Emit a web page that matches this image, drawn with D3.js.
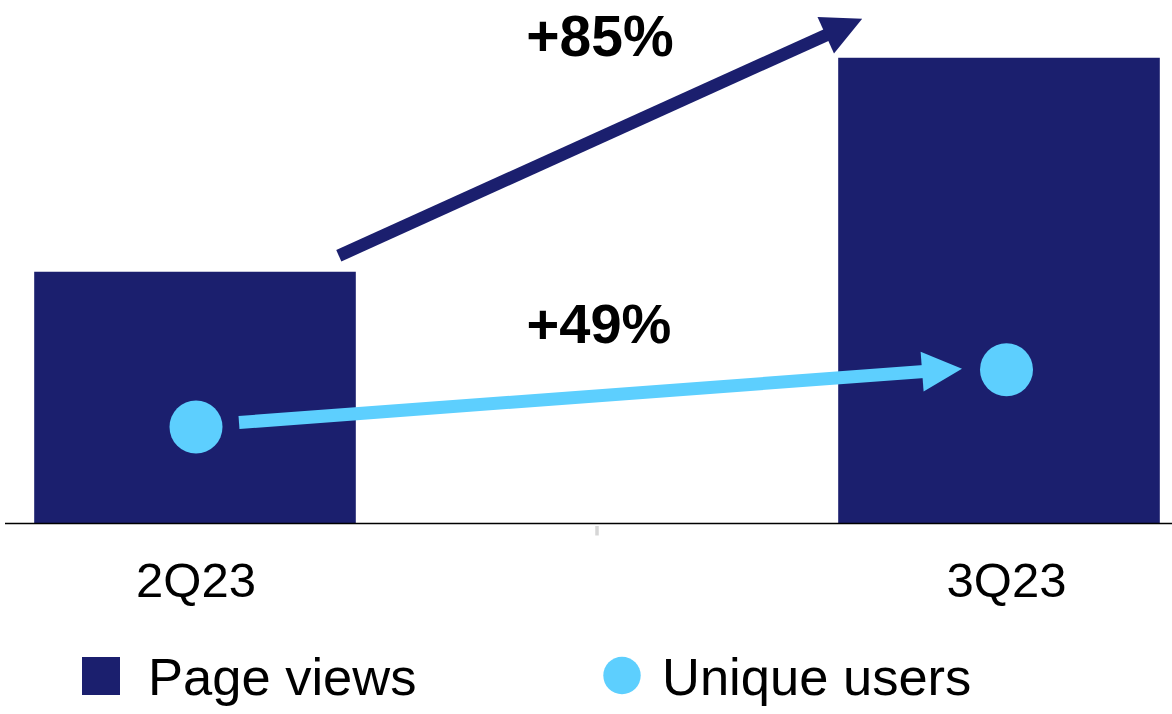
<!DOCTYPE html>
<html>
<head>
<meta charset="utf-8">
<script src="https://cdn.jsdelivr.net/npm/d3@7"></script>
<style>
  html, body { margin: 0; padding: 0; background: #ffffff; }
  svg { display: block; font-family: "Liberation Sans", Arial, Helvetica, sans-serif; }
</style>
</head>
<body>
<svg id="chart" width="1172" height="714"></svg>
<script>
// Quarterly traffic, indexed to 2Q23 = 100
const quarters = ["2Q23", "3Q23"];
const pageViews = [100, 185];     // +85%
const uniqueUsers = [100, 149];   // +49%
const growthLabels = ["+85%", "+49%"];
const legendLabels = ["Page views", "Unique users"];

const navy = "#1B1F6E";
const sky = "#5DCFFE";

const svg = d3.select("#chart");

// Bars on a band scale; the axis spans the full width
const x = d3.scaleBand()
  .domain(quarters)
  .range([-207, 1401])
  .paddingInner(0.6)
  .paddingOuter(0.3);

// Category label / marker centres
const xp = d3.scalePoint().domain(quarters).range([196, 1006.5]);

const y = d3.scaleLinear().domain([0, 200]).range([523.5, 20]);
const y2 = d3.scaleLinear().domain([0, 200]).range([544, 310]);

// Bars
svg.append("g").selectAll("rect")
  .data(quarters)
  .join("rect")
  .attr("x", d => x(d))
  .attr("y", (d, i) => y(pageViews[i]))
  .attr("width", x.bandwidth())
  .attr("height", (d, i) => y(0) - y(pageViews[i]))
  .attr("fill", navy);

// Baseline
svg.append("line")
  .attr("x1", 5).attr("x2", 1172)
  .attr("y1", y(0)).attr("y2", y(0))
  .attr("stroke", "#000").attr("stroke-width", 1.5);

// Tick mark between categories
const midTick = (x(quarters[0]) + x.bandwidth() + x(quarters[1])) / 2;
svg.append("line")
  .attr("x1", midTick).attr("x2", midTick)
  .attr("y1", y(0) + 2.5).attr("y2", y(0) + 12)
  .attr("stroke", "#d6d6d6").attr("stroke-width", 3.5);

// Category labels
svg.append("g").selectAll("text")
  .data(quarters)
  .join("text")
  .attr("x", d => xp(d))
  .attr("y", 597)
  .attr("text-anchor", "middle")
  .attr("font-size", 49)
  .attr("fill", "#000")
  .text(d => d);

// Arrow: shaft plus triangular head ending at (x2, y2)
function arrow(x1, y1, x2, y2, color, width) {
  const headLen = 40, headHalf = 20;
  const dx = x2 - x1, dy = y2 - y1;
  const len = Math.hypot(dx, dy);
  const ux = dx / len, uy = dy / len;
  const bx = x2 - ux * headLen, by = y2 - uy * headLen;
  svg.append("line")
    .attr("x1", x1).attr("y1", y1)
    .attr("x2", bx + ux * 2).attr("y2", by + uy * 2)
    .attr("stroke", color).attr("stroke-width", width);
  svg.append("path")
    .attr("d", d3.line()([
      [x2, y2],
      [bx - uy * headHalf, by + ux * headHalf],
      [bx + uy * headHalf, by - ux * headHalf]
    ]) + "Z")
    .attr("fill", color);
}

// Page views growth arrow
const pvStart = [x(quarters[0]) + x.bandwidth() - 17, y(pageViews[0]) - 16];
const pvEnd = [x(quarters[1]) + 24, y(pageViews[1]) - 39];
arrow(pvStart[0], pvStart[1], pvEnd[0], pvEnd[1], navy, 12.5);

// Unique users markers
svg.append("g").selectAll("circle")
  .data(quarters)
  .join("circle")
  .attr("cx", d => xp(d))
  .attr("cy", (d, i) => y2(uniqueUsers[i]))
  .attr("r", 26.5)
  .attr("fill", sky);

// Unique users growth arrow
const uuStart = [xp(quarters[0]) + 43, y2(uniqueUsers[0]) - 4.5];
const uuEnd = [xp(quarters[1]) - 44.5, y2(uniqueUsers[1]) - 1];
arrow(uuStart[0], uuStart[1], uuEnd[0], uuEnd[1], sky, 13);

// Growth labels
svg.append("text")
  .attr("x", 600).attr("y", 56)
  .attr("text-anchor", "middle")
  .attr("font-size", 57).attr("font-weight", "bold")
  .attr("fill", "#000")
  .text(growthLabels[0]);
svg.append("text")
  .attr("x", 599).attr("y", 343)
  .attr("text-anchor", "middle")
  .attr("font-size", 56).attr("font-weight", "bold")
  .attr("fill", "#000")
  .text(growthLabels[1]);

// Legend
const legend = svg.append("g");
legend.append("rect")
  .attr("x", 82).attr("y", 657).attr("width", 38).attr("height", 38)
  .attr("fill", navy);
legend.append("text")
  .attr("x", 148).attr("y", 695)
  .attr("font-size", 52.5).attr("fill", "#000")
  .text(legendLabels[0]);
legend.append("circle")
  .attr("cx", 622).attr("cy", 675.5).attr("r", 18.7)
  .attr("fill", sky);
legend.append("text")
  .attr("x", 662).attr("y", 695)
  .attr("font-size", 52.5).attr("fill", "#000")
  .text(legendLabels[1]);
</script>
</body>
</html>
